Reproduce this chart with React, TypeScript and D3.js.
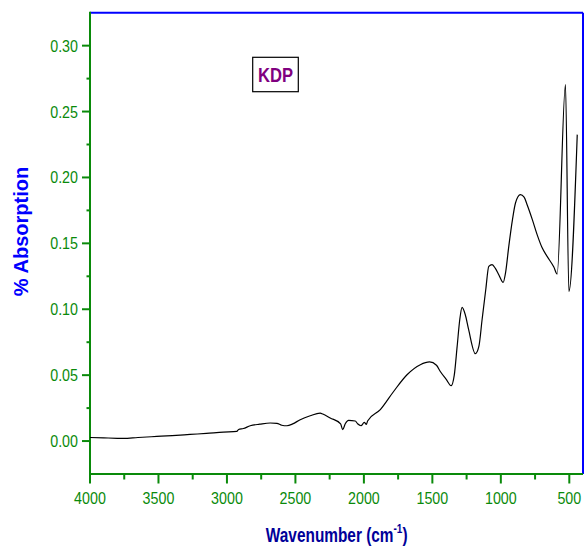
import React from "react";
import * as d3 from "d3";

const wavenumbers = [
  4000, 3900, 3800, 3757, 3650, 3512, 3400, 3269, 3150, 3026, 2928, 2915, 2880, 2830, 2760, 2684, 2635, 2600, 2562,
  2520, 2465, 2392, 2319, 2300, 2246, 2170, 2155, 2136, 2112, 2063, 2046, 2021, 1997, 1982, 1973, 1880, 1783, 1685,
  1588, 1520, 1470, 1442, 1400, 1363, 1340, 1319, 1300, 1283, 1260, 1235, 1186, 1160, 1137, 1110, 1088, 1064, 1040,
  1015, 983, 965, 942, 915, 893, 857, 830, 808, 770, 735, 700, 662, 613, 589, 528, 503, 442,
];
const absorption = [
  0.0027, 0.0024, 0.0021, 0.002, 0.0027, 0.0035, 0.0041, 0.005, 0.0058, 0.0068, 0.0073, 0.0088, 0.0095, 0.0116, 0.0128,
  0.0137, 0.0134, 0.012, 0.0116, 0.013, 0.0162, 0.0192, 0.0212, 0.0205, 0.0175, 0.0131, 0.0086, 0.0131, 0.0157, 0.0152,
  0.0131, 0.0116, 0.0141, 0.0126, 0.0152, 0.0238, 0.0376, 0.0503, 0.0579, 0.06, 0.0575, 0.0528, 0.047, 0.042, 0.05,
  0.0718, 0.092, 0.1014, 0.096, 0.0845, 0.0663, 0.072, 0.092, 0.115, 0.1325, 0.1338, 0.131, 0.1262, 0.1204, 0.128,
  0.1477, 0.168, 0.1806, 0.1869, 0.185, 0.1793, 0.168, 0.1566, 0.147, 0.1401, 0.132, 0.1267, 0.2704, 0.1135, 0.2325,
];
const xMajorTicks = [4000, 3500, 3000, 2500, 2000, 1500, 1000, 500];
const xMinorTicks = [3750, 3250, 2750, 2250, 1750, 1250, 750];
const yMajorTicks = [0.0, 0.05, 0.1, 0.15, 0.2, 0.25, 0.3];
const yMinorTicks = [0.025, 0.075, 0.125, 0.175, 0.225, 0.275];
const legendLabel = "KDP";
const xTitle = "Wavenumber (cm";
const yTitle = "% Absorption";

const L = 90, R = 583, T = 12.7, B = 474;
const GREEN = "#0a8a0a";
const BLUE = "#0000ff";

export default function App() {
  const x = d3.scaleLinear().domain([4000, 400]).range([L, R]);
  const y = d3.scaleLinear().domain([-0.025, 0.325]).range([B, T]);
  const data = wavenumbers.map((w, i) => [w, absorption[i]] as [number, number]);
  const line = d3
    .line<[number, number]>()
    .x((d) => x(d[0]))
    .y((d) => y(d[1]))
    .curve(d3.curveMonotoneX);

  const font = "Arial, 'Liberation Sans', sans-serif";

  return (
    <svg
      width={585}
      height={546}
      style={{ position: "absolute", left: 0, top: 0, background: "#fff" }}
      fontFamily={font}
    >
      <rect x={0} y={0} width={585} height={546} fill="#fff" />
      {/* top/right frame */}
      <line x1={L} x2={R} y1={T} y2={T} stroke={BLUE} strokeWidth={2} />
      <line x1={R} x2={R} y1={T} y2={B} stroke={BLUE} strokeWidth={2} />
      {/* axes */}
      <line x1={L} x2={L} y1={T - 1} y2={B} stroke={GREEN} strokeWidth={2} />
      <line x1={L - 1} x2={R} y1={B} y2={B} stroke={GREEN} strokeWidth={2} />
      {yMajorTicks.map((t) => (
        <g key={"ym" + t}>
          <line x1={L - 8} x2={L} y1={y(t)} y2={y(t)} stroke={GREEN} strokeWidth={2} />
          <g transform={`translate(${78},${y(t) + 6}) scale(0.84,1)`}>
            <text textAnchor="end" fontSize={17} fill={GREEN}>
              {t.toFixed(2)}
            </text>
          </g>
        </g>
      ))}
      {yMinorTicks.map((t) => (
        <line key={"yn" + t} x1={L - 3.5} x2={L} y1={y(t)} y2={y(t)} stroke={GREEN} strokeWidth={2} />
      ))}
      {xMajorTicks.map((t) => (
        <g key={"xm" + t}>
          <line x1={x(t)} x2={x(t)} y1={B} y2={B + 9.5} stroke={GREEN} strokeWidth={2} />
          <g transform={`translate(${x(t)},${504}) scale(0.84,1)`}>
            <text textAnchor="middle" fontSize={17} fill={GREEN}>
              {t}
            </text>
          </g>
        </g>
      ))}
      {xMinorTicks.map((t) => (
        <line key={"xn" + t} x1={x(t)} x2={x(t)} y1={B} y2={B + 5.5} stroke={GREEN} strokeWidth={2} />
      ))}
      {/* spectrum */}
      <path d={line(data) || ""} fill="none" stroke="#000" strokeWidth={1.2} />
      {/* legend box */}
      <rect x={252.7} y={57.3} width={45.6} height={34.4} fill="#fff" stroke="#000" strokeWidth={1.2} />
      <g transform={`translate(${275.5},${81.5}) scale(0.83,1)`}>
        <text textAnchor="middle" fontSize={20} fontWeight="bold" fill="#800080">
          {legendLabel}
        </text>
      </g>
      {/* axis titles */}
      <g transform={`translate(${336.7},${541.5}) scale(0.77,1)`}>
        <text textAnchor="middle" fontSize={20} fontWeight="bold" fill="#000099">
          {xTitle}
          <tspan fontSize={13} dy={-9}>-1</tspan>
          <tspan dy={9}>)</tspan>
        </text>
      </g>
      <text
        transform={`translate(${27.5},${231.5}) rotate(-90)`}
        textAnchor="middle"
        fontSize={20}
        fontWeight="bold"
        fill={BLUE}
      >
        {yTitle}
      </text>
    </svg>
  );
}
